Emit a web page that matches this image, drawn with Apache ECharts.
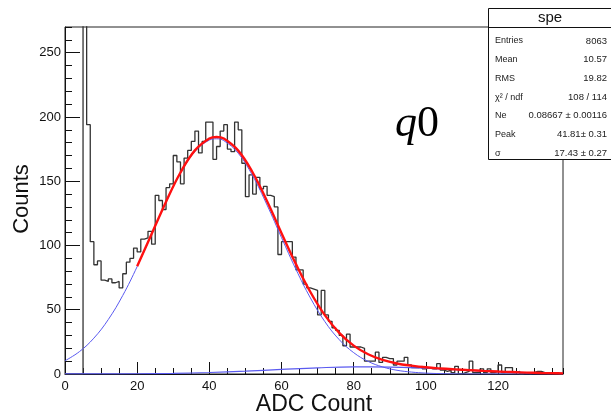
<!DOCTYPE html>
<html><head><meta charset="utf-8">
<script src="https://cdn.jsdelivr.net/npm/echarts@6/dist/echarts.min.js"></script>
<style>html,body{margin:0;padding:0;background:#fff}#c{width:611px;height:417px}</style>
</head><body><div id="c"></div>
<script>
// Histogram bins of width 1 ADC, bin k covers [k, k+1]
const binCounts = [
  0,0,0,0,0, 400,194,103,85,88, 73,72,74,71,72, 67,78,87,90,98,
  95,105,106,111,101, 139,135,128,145,148, 170,165,148,168,174, 181,189,172,181,196,
  196,167,177,189,194, 175,173,196,190,164, 138,155,140,153,144, 146,139,138,130,93,
  103,103,103,91,81, 81,70,67,66,65, 46,65,46,41,36, 34,30,22,31,21,
  21,21,20,10,10, 10,17,9,13,12, 12,7,10,10,13, 7,5,5,6,4,
  5,4,4,8,3, 2,3,1,6,0, 1,2,10,1,1, 4,1,4,1,2,
  7,1,5,5,1, 2,0,1,0,1, 2,2,1,0,1, 1,0,0
];
// Total fit (red)
const fitX = [20,24,28,32,36,40,42,44,48,52,56,60,64,68,72,76,80,84,88,92,96,100,104,108,112,116,120,124,128,132,136,138];
const fitY = [83.8,108.9,134.1,156.8,174.0,183.2,184.4,183.2,173.8,156.8,134.5,109.6,85.5,63.8,45.8,32.0,22.1,15.4,11.0,8.2,6.5,5.2,4.3,3.6,3.0,2.4,1.9,1.5,1.1,0.8,0.6,0.5];
// Single p.e. component (blue)
const g1X = [0,4,8,12,16,20,24,28,32,36,40,42,44,48,52,56,60,64,68,72,76,80,84,88,92,96,100,104,108,112,138];
const g1Y = [10.3,17.4,27.9,42.4,61.1,83.6,108.6,133.7,156.2,173.1,182.0,183.0,181.6,171.8,154.2,131.4,106.1,81.4,59.2,40.8,26.7,16.6,9.8,5.5,2.9,1.5,0.7,0.3,0.1,0,0];
// Double p.e. component (blue)
const g2X = [0,10,20,30,40,50,60,70,80,90,100,110,120,130,138];
const g2Y = [0.02,0.07,0.2,0.53,1.17,2.2,3.54,4.8,5.54,5.41,4.49,3.16,1.88,0.95,0.49];

const xRange = [0, 138];
const yRange = [0, 270];
const statsTitle = 'spe';
const statsLabels = ['Entries','Mean','RMS','χ² / ndf','Ne','Peak','σ'];
const statsValues = ['8063','10.57','19.82','108 / 114','0.08667 ± 0.00116','41.81± 0.31','17.43 ± 0.27'];
const xTitle = 'ADC Count';
const yTitle = 'Counts';

const histData = binCounts.map((v, k) => [k, v]);
histData.push([binCounts.length, binCounts[binCounts.length - 1]]);

const chart = echarts.init(document.getElementById('c'), null, {renderer: 'canvas'});
const FONT = 'Liberation Sans, Arial, sans-serif';
const baseAxis = (extra) => Object.assign({
  type: 'value', splitLine: {show: false},
  axisLine: {show: true, lineStyle: {color: '#111', width: 1}},
}, extra);

const statsGraphics = [];
statsGraphics.push({type: 'rect', shape: {x: 488.5, y: 8.5, width: 130, height: 151},
  style: {fill: '#fff', stroke: '#111', lineWidth: 1}, z: 100});
statsGraphics.push({type: 'line', shape: {x1: 488.5, y1: 27.5, x2: 611, y2: 27.5},
  style: {stroke: '#111', lineWidth: 1}, z: 101});
statsGraphics.push({type: 'text', x: 550, y: 18, z: 101,
  style: {text: statsTitle, font: '15px ' + FONT, fill: '#111', align: 'center', verticalAlign: 'middle'}});
statsLabels.forEach((lab, i) => {
  const y = 41 + i * 18.7;
  statsGraphics.push({type: 'text', x: 495, y: y, z: 101,
    style: {text: lab, font: '9px ' + FONT, fill: '#222', align: 'left', verticalAlign: 'middle'}});
  statsGraphics.push({type: 'text', x: 607, y: y, z: 101,
    style: {text: statsValues[i], font: '9.5px ' + FONT, fill: '#222', align: 'right', verticalAlign: 'middle'}});
});

chart.setOption({
  animation: false,
  backgroundColor: '#fff',
  grid: {left: 65, right: 48, top: 27, bottom: 43, show: true, borderColor: '#222', borderWidth: 1, containLabel: false},
  xAxis: [
    baseAxis({min: xRange[0], max: xRange[1], interval: 20, position: 'bottom',
      axisTick: {show: true, inside: true, length: 12, lineStyle: {color: '#111'}},
      axisLabel: {show: true, fontSize: 13, fontFamily: FONT, color: '#111', margin: 6, showMaxLabel: false}}),
    baseAxis({min: xRange[0], max: xRange[1], interval: 5, position: 'bottom', offset: 0,
      axisLine: {show: false},
      axisTick: {show: true, inside: true, length: 6, lineStyle: {color: '#111'}},
      axisLabel: {show: false}})
  ],
  yAxis: [
    baseAxis({min: yRange[0], max: yRange[1], interval: 50, position: 'left',
      axisTick: {show: true, inside: true, length: 15, lineStyle: {color: '#111'}},
      axisLabel: {show: true, fontSize: 13, fontFamily: FONT, color: '#111', margin: 4, showMaxLabel: false}}),
    baseAxis({min: yRange[0], max: yRange[1], interval: 10, position: 'left', offset: 0,
      axisLine: {show: false},
      axisTick: {show: true, inside: true, length: 7, lineStyle: {color: '#111'}},
      axisLabel: {show: false}})
  ],
  series: [
    {type: 'line', name: 'hist', data: histData, step: 'end', showSymbol: false, symbol: 'none',
      lineStyle: {color: '#333', width: 1.3}, z: 2, clip: true},
    {type: 'line', name: 'g1', data: g1X.map((x, i) => [x, g1Y[i]]), smooth: 0.4, symbol: 'none',
      lineStyle: {color: '#5a5af0', width: 1}, z: 3, clip: true},
    {type: 'line', name: 'g2', data: g2X.map((x, i) => [x, g2Y[i]]), smooth: 0.4, symbol: 'none',
      lineStyle: {color: '#5a5af0', width: 1.2}, z: 3, clip: true},
    {type: 'line', name: 'fit', data: fitX.map((x, i) => [x, fitY[i]]), smooth: 0.4, symbol: 'none',
      lineStyle: {color: '#ff1010', width: 2.4}, z: 4, clip: true}
  ],
  graphic: [
    {type: 'text', x: 22, y: 199, rotation: Math.PI / 2,
      style: {text: yTitle, font: '22px ' + FONT, fill: '#111', align: 'center', verticalAlign: 'middle'}},
    {type: 'text', x: 314, y: 405,
      style: {text: xTitle, font: '23px ' + FONT, fill: '#111', align: 'center', verticalAlign: 'middle'}},
    {type: 'text', x: 395, y: 124,
      style: {text: '{q|q}{z|0}', verticalAlign: 'middle', align: 'left',
        rich: {q: {font: 'italic 44px Liberation Serif, serif', fill: '#000'},
               z: {font: '44px Liberation Serif, serif', fill: '#000'}}}}
  ].concat(statsGraphics)
});
</script>
</body></html>
